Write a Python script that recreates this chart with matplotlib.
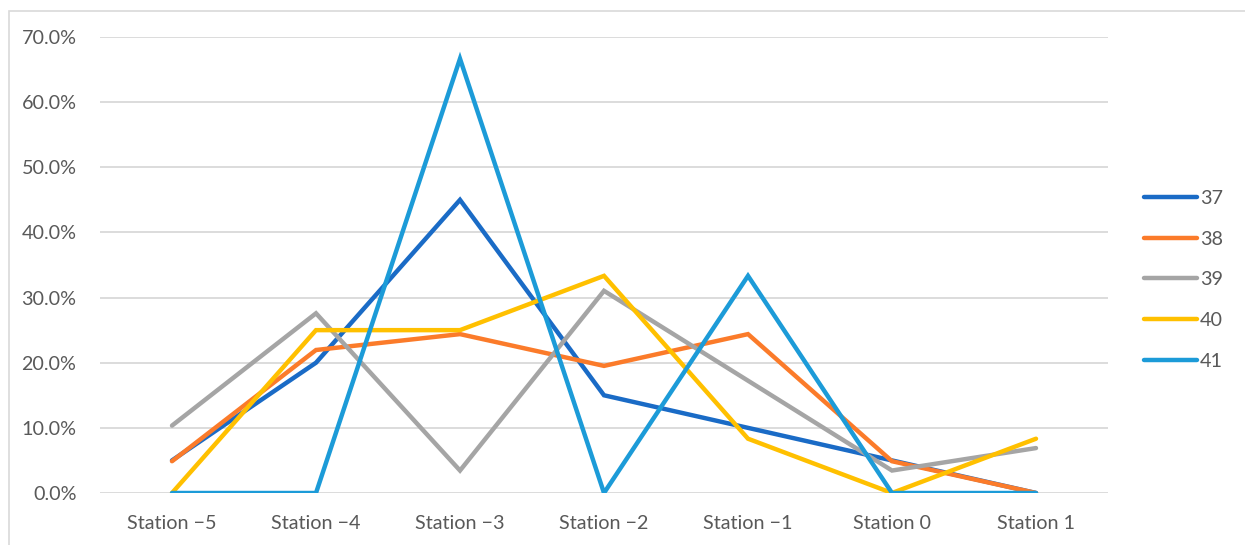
import matplotlib
matplotlib.use("Agg")
import matplotlib.pyplot as plt
from matplotlib.patches import Rectangle
from matplotlib.ticker import FuncFormatter

# Share of observations per station for each group
stations = ["Station \u22125", "Station \u22124", "Station \u22123", "Station \u22122",
            "Station \u22121", "Station 0", "Station 1"]
series_names = ["37", "38", "39", "40", "41"]
s37 = [0.05, 0.20, 0.45, 0.15, 0.10, 0.05, 0.0]
s38 = [2/41, 9/41, 10/41, 8/41, 10/41, 2/41, 0.0]
s39 = [3/29, 8/29, 1/29, 9/29, 5/29, 1/29, 2/29]
s40 = [0.0, 3/12, 3/12, 4/12, 1/12, 0.0, 1/12]
s41 = [0.0, 0.0, 2/3, 0.0, 1/3, 0.0, 0.0]
colors = ["#1A6BC6", "#FB7B2A", "#A5A5A5", "#FFC000", "#1C9BD8"]

plt.rcParams["font.family"] = ["Lato", "DejaVu Sans"]

W, H = 1245, 545
fig = plt.figure(figsize=(W / 100, H / 100), dpi=100)
ax = fig.add_axes([100 / W, 1 - 493 / H, (1108 - 100) / W, (493 - 37) / H])

x = range(len(stations))
for vals, name, c in zip([s37, s38, s39, s40, s41], series_names, colors):
    ax.plot(x, vals, color=c, lw=3.2, label=name,
            solid_capstyle="round", solid_joinstyle="miter")

ax.set_xlim(-0.5, len(stations) - 0.5)
ax.set_ylim(0, 0.7)
ax.set_yticks([i / 10 for i in range(8)])
ax.yaxis.set_major_formatter(FuncFormatter(lambda v, p: f"{v * 100:.1f}%"))
ax.set_xticks(list(x))
ax.set_xticklabels(stations)

ax.grid(axis="y", color="#D9D9D9", lw=1.3)
ax.set_axisbelow(True)
for sp in ax.spines.values():
    sp.set_visible(False)
ax.tick_params(axis="both", length=0, labelsize=14.2, labelcolor="#595959")
ax.tick_params(axis="y", pad=17)
ax.tick_params(axis="x", pad=16)

# Outer chart frame (top and left edges visible)
fig.patches.append(Rectangle((9 / W, -0.05), 1.1, (1 - 11 / H) + 0.05,
                             transform=fig.transFigure, fill=False,
                             edgecolor="#D9D9D9", lw=1.2))

leg = fig.legend(loc="upper left", bbox_to_anchor=(1136 / W, 1 - 182 / H),
                 frameon=False, fontsize=14.2, handlelength=2.7,
                 handletextpad=0.15, labelspacing=1.2, borderaxespad=0)
for t in leg.get_texts():
    t.set_color("#595959")

fig.savefig("out.png", dpi=100)
